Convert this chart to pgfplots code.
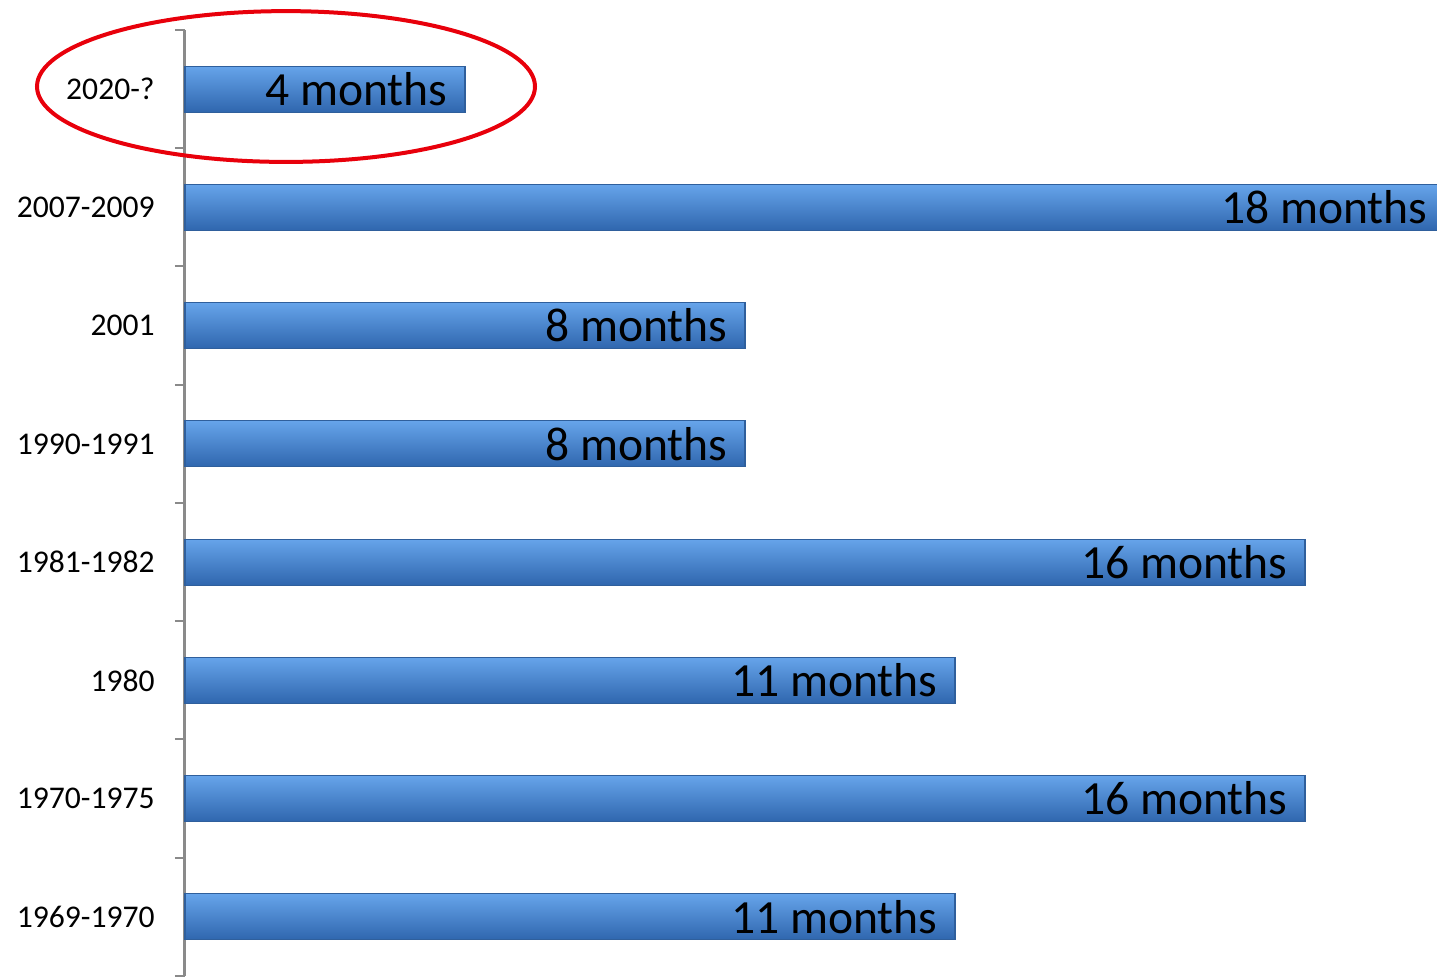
\documentclass[border=0pt]{standalone}
\usepackage{pgfplots}
\pgfplotsset{compat=1.18}
\usepackage{fontspec}
\setmainfont{Carlito}
\definecolor{axgray}{HTML}{8A8A8A}
\definecolor{bartop}{HTML}{66A4EA}
\definecolor{barmid}{HTML}{4282D2}
\definecolor{barbot}{HTML}{2F66AE}
\definecolor{baredge}{HTML}{2F5F9C}
\definecolor{ellred}{HTML}{E8000B}
\pgfplotsset{
  barsty/.style={draw=baredge, line width=0.6pt, top color=bartop, middle color=barmid, bottom color=barbot},
}
\begin{document}
\begin{tikzpicture}
\useasboundingbox (-92.5pt,0pt) rectangle (626pt,488pt);
\begin{axis}[
  at={(0pt,0pt)}, anchor=south west,
  scale only axis, width=626pt, height=473pt,
  xmin=0, xmax=17.8857, ymin=-0.5, ymax=7.5,
  axis x line=none, axis y line=left,
  axis line style={-, draw=axgray, line width=1.5pt},
  ytick={0,...,7},
  yticklabels={1969-1970,1970-1975,1980,1981-1982,1990-1991,2001,2007-2009,2020-?},
  major tick length=0pt,
  minor ytick={-0.5,0.5,...,7.5},
  minor tick length=5pt, tick align=outside,
  minor tick style={draw=axgray, line width=1pt},
  yticklabel style={font=\fontsize{15.8}{18}\selectfont, inner sep=0pt, xshift=-15pt, text=black},
  xbar, bar width=23pt, bar shift=0pt,
  clip=false,
  point meta=explicit symbolic,
  nodes near coords,
  nodes near coords style={anchor=east, inner sep=0pt, xshift=-8.5pt,
    font=\fontsize{23.8}{28}\selectfont, text=black},
]
\addplot[barsty] coordinates {(11,0) [11 months]};
\addplot[barsty] coordinates {(16,1) [16 months]};
\addplot[barsty] coordinates {(11,2) [11 months]};
\addplot[barsty] coordinates {(16,3) [16 months]};
\addplot[barsty] coordinates {(8,4) [8 months]};
\addplot[barsty] coordinates {(8,5) [8 months]};
\addplot[barsty] coordinates {(18,6) [18 months]};
\addplot[barsty] coordinates {(4,7) [4 months]};
\draw[ellred, line width=2pt] (axis cs:1.443,7.022) ellipse [x radius=124.5pt, y radius=37.7pt];
\end{axis}
\end{tikzpicture}
\end{document}
